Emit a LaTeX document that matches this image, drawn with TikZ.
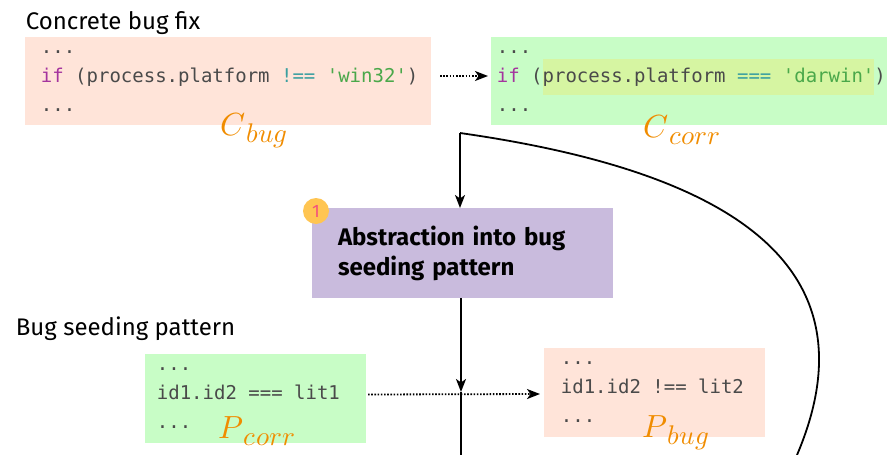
\documentclass[tikz,border=0pt]{standalone}
\usepackage{fontspec}
\usepackage{unicode-math}
\setmainfont{Fira Sans}
\setmonofont{DejaVu Sans Mono}
\usetikzlibrary{arrows.meta}

\definecolor{bugfill}{HTML}{FFE4D9}
\definecolor{corrfill}{HTML}{C8FDC6}
\definecolor{hlfill}{HTML}{D6F5A2}
\definecolor{absfill}{HTML}{C9BBDD}
\definecolor{badgefill}{HTML}{FFC552}
\definecolor{badgetext}{HTML}{F4527D}
\definecolor{symorange}{HTML}{F08C00}
\definecolor{codegrey}{HTML}{4A4A4A}
\definecolor{kw}{HTML}{A4349E}
\definecolor{op}{HTML}{3A9FA0}
\definecolor{str}{HTML}{4AA84A}
\setlength{\fboxsep}{0pt}

\begin{document}
\begin{tikzpicture}[
  x=1pt, y=-1pt, line width=1.8pt,
  >={Stealth[length=13pt, width=10pt, inset=3.5pt]},
  box/.style={anchor=north west, inner sep=0pt, outer sep=0pt},
  code/.style={font=\fontsize{19}{29}\selectfont\ttfamily, text=codegrey,
    align=left, inner sep=0pt, anchor=west},
  title/.style={font=\fontsize{24}{28}\selectfont, anchor=base west, inner sep=0pt},
  sym/.style={text=symorange, inner sep=0pt, anchor=base west},
  dots/.style={->, dash pattern=on 1.6pt off 1.6pt}
]
\useasboundingbox (0,0) rectangle (887,455);

% concrete fix
\node[title] (fixtitle) at (25,30) {Concrete bug fix};
\node[box, fill=bugfill, minimum width=406pt, minimum height=88pt] (cbug) at (25,37) {};
\node[box, fill=corrfill, minimum width=396pt, minimum height=88pt] (ccorr) at (491,37) {};
\node[code] (cbugcode) at ([xshift=15pt]cbug.west)
  {...\\\textcolor{kw}{if} (process.platform \textcolor{op}{!==} \textcolor{str}{'win32'})\\...};
\node[code] (ccorrcode) at ([xshift=5pt]ccorr.west)
  {...\\\textcolor{kw}{if} (\colorbox{hlfill}{\rule[-13pt]{0pt}{36pt}process.platform
   \textcolor{op}{===} \textcolor{str}{'darwin'}})\\...};
\node[sym] (cbuglbl) at (220,135)
  {{\fontsize{32}{32}\selectfont$C$}\raisebox{-7pt}{\fontsize{27}{27}\selectfont$bug$}};
\node[sym] (ccorrlbl) at (643,137)
  {{\fontsize{32}{32}\selectfont$C$}\raisebox{-7pt}{\fontsize{27}{27}\selectfont$corr$}};

\draw[dots] ([xshift=9pt,yshift=5pt]cbug.east) -- ([xshift=-3pt,yshift=5pt]ccorr.west);

% abstraction step
\node[box, fill=absfill, minimum width=301pt, minimum height=90pt, text width=249pt,
  align=left, font=\fontsize{24}{30}\selectfont\bfseries] (abs) at (312,208)
  {Abstraction into bug\\seeding pattern};
\node[circle, fill=badgefill, minimum size=26pt, inner sep=0pt, text=badgetext,
  font=\fontsize{18}{18}\selectfont] (badge) at (316,211) {1};

\coordinate (split) at (460,133);
\coordinate (cross) at (461,392);
\coordinate (down) at (461,455);
\coordinate (curveend) at (797,455);
\draw[->] (split) -- (split |- abs.north);
\draw (split) .. controls (720,170) and (880,260) .. (curveend);
\draw[->] (abs.south -| cross) -- (cross);
\draw (cross) -- (down);

% pattern
\node[title] (pattitle) at (15,335) {Bug seeding pattern};
\node[box, fill=corrfill, minimum width=221pt, minimum height=89pt] (pcorr) at (145,354) {};
\node[box, fill=bugfill, minimum width=221pt, minimum height=89pt] (pbug) at (544,348) {};
\node[code] (pcorrcode) at ([xshift=11pt]pcorr.west) {...\\id1.id2 === lit1\\...};
\node[code] (pbugcode) at ([xshift=16pt]pbug.west) {...\\id1.id2 !== lit2\\...};
\node[sym] (pcorrlbl) at (218,438)
  {{\fontsize{32}{32}\selectfont$P$}\raisebox{-7pt}{\fontsize{27}{27}\selectfont$corr$}};
\node[sym] (pbuglbl) at (642,437)
  {{\fontsize{32}{32}\selectfont$P$}\raisebox{-7pt}{\fontsize{27}{27}\selectfont$bug$}};

\draw[dots] ([xshift=2pt,yshift=4pt]pcorr.east) -- ([xshift=-4pt,yshift=-1.5pt]pbug.west);
\end{tikzpicture}
\end{document}
